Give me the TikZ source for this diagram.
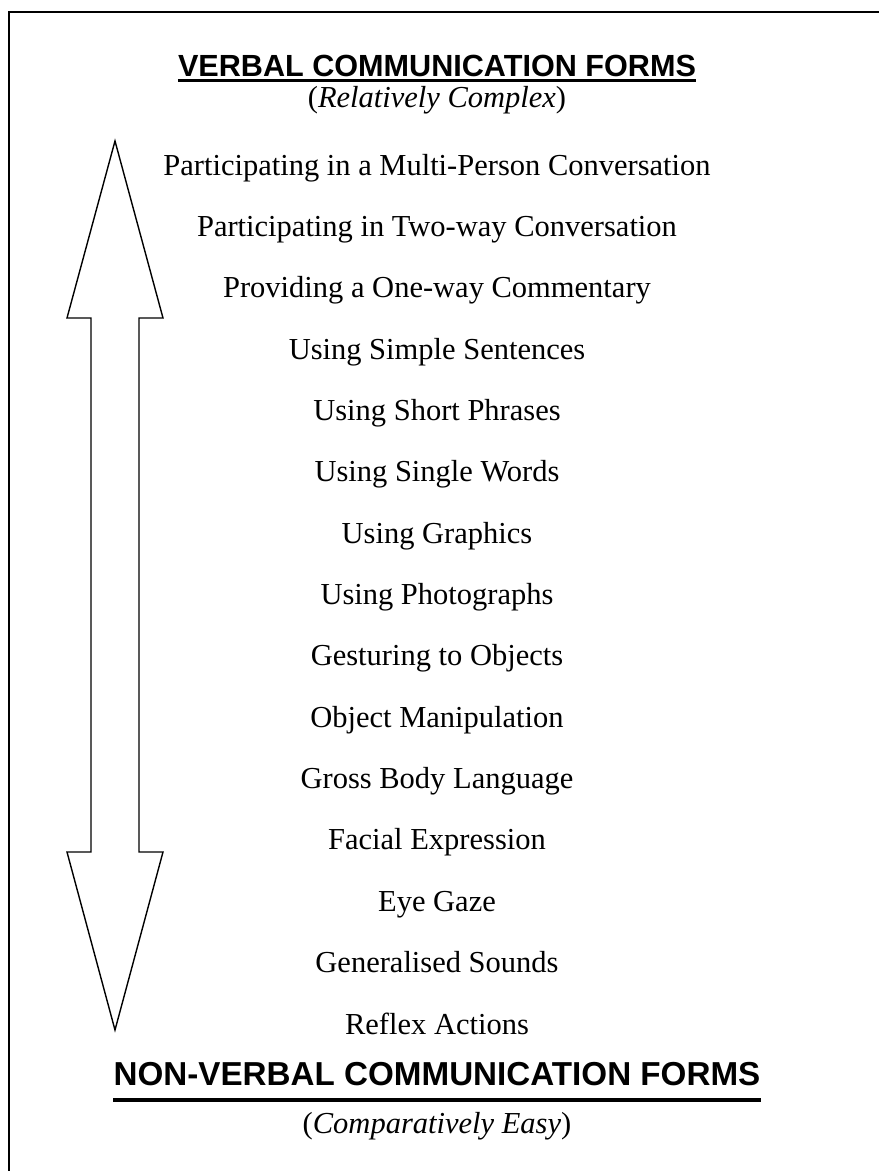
\documentclass[tikz,border=0pt]{standalone}
\usepackage{fontspec}
\setmainfont{Liberation Serif}
\newfontfamily\headfont{Liberation Sans}
\begin{document}
\begin{tikzpicture}[x=1pt,y=-1pt,
  item/.style={anchor=base,inner sep=0pt,font=\fontsize{30.5}{36}\selectfont},
  head/.style={anchor=base,inner sep=0pt,font=\headfont\bfseries\fontsize{#1}{38}\selectfont},
  uline/.style={line width=3.5pt},
  frame/.style={line width=2pt},
  arrowshape/.style={line width=1.4pt,line join=miter}]
\useasboundingbox (0,0) rectangle (879,1171);
% partial frame (top and left edges)
\coordinate (fbl) at (8.5,1171);
\coordinate (ftl) at (8.5,11.8);
\coordinate (ftr) at (879,11.8);
\draw[frame] (fbl) -- (ftl) -- (ftr);
% titles
\node[head=30.6] (top) at (437,76) {VERBAL COMMUNICATION FORMS};
\draw[uline] ([yshift=-4.5pt]top.base west) -- ([yshift=-4.5pt]top.base east);
\node[item] (topsub) at (437,107) {(\textit{Relatively Complex})};
\node[head=33.2] (bot) at (437,1085) {NON-VERBAL COMMUNICATION FORMS};
\draw[uline] ([yshift=-15pt]bot.base west) -- ([yshift=-15pt]bot.base east);
\node[item] (botsub) at (437,1133) {(\textit{Comparatively Easy})};
% items
\foreach \t [count=\i from 0] in {%
  Participating in a Multi-Person Conversation,
  Participating in Two-way Conversation,
  Providing a One-way Commentary,
  Using Simple Sentences,
  Using Short Phrases,
  Using Single Words,
  Using Graphics,
  Using Photographs,
  Gesturing to Objects,
  Object Manipulation,
  Gross Body Language,
  Facial Expression,
  Eye Gaze,
  Generalised Sounds,
  Reflex Actions}
  \node[item] (l\i) at (437,175+61.36*\i) {\t};
% double-headed arrow
\draw[arrowshape] (115,141) -- (163,318) -- (139,318) -- (139,852) -- (163,852)
  -- (115,1030) -- (67,852) -- (91,852) -- (91,318) -- (67,318) -- cycle;
\end{tikzpicture}
\end{document}
